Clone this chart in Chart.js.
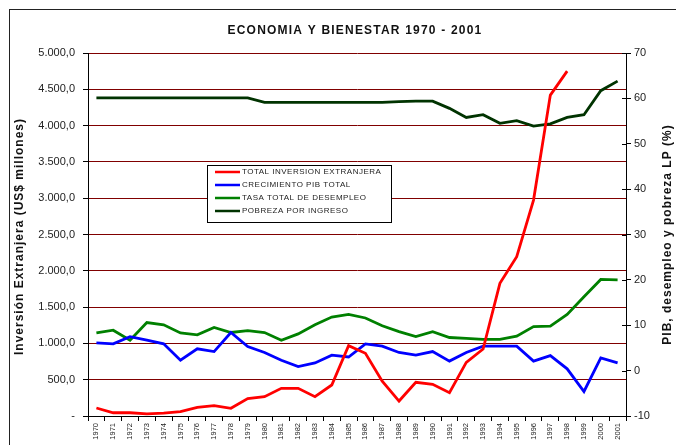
<!DOCTYPE html>
<html>
<head>
<meta charset="utf-8">
<script src="https://cdn.jsdelivr.net/npm/chart.js@4.4.1/dist/chart.umd.min.js"></script>
<style>
html,body{margin:0;padding:0;background:#fff;}
#wrap{width:676px;height:445px;position:relative;}
</style>
</head>
<body>
<div id="wrap"><canvas id="c" width="676" height="445"></canvas></div>
<script>
const years = [1970,1971,1972,1973,1974,1975,1976,1977,1978,1979,1980,1981,1982,1983,1984,1985,1986,1987,1988,1989,1990,1991,1992,1993,1994,1995,1996,1997,1998,1999,2000,2001].map(String);
const inversion = [110,45,45,28,41,60,120,142,106,239,266,381,381,266,427,968,863,480,206,464,436,321,739,922,1827,2194,2974,4420,4750,null,null,null];
const pib = [6.1,5.9,7.5,6.7,5.9,2.3,4.8,4.2,8.4,5.3,4.0,2.3,0.9,1.7,3.4,3.0,5.9,5.4,4.0,3.4,4.2,2.1,4.0,5.4,5.4,5.4,2.1,3.3,0.4,-4.6,2.8,1.7];
const desempleo = [8.3,8.9,6.7,10.6,10.1,8.3,7.9,9.5,8.4,8.8,8.4,6.7,8.1,10.1,11.8,12.4,11.6,9.9,8.6,7.5,8.6,7.3,7.1,6.9,6.9,7.6,9.7,9.8,12.4,16.3,20.1,20.0];
const pobreza = [60.1,60.1,60.1,60.1,60.1,60.1,60.1,60.1,60.1,60.1,59.1,59.1,59.1,59.1,59.1,59.1,59.1,59.1,59.3,59.4,59.4,57.8,55.8,56.4,54.5,55.1,53.9,54.4,55.8,56.4,61.7,63.8];
const seriesNames = ["TOTAL INVERSION EXTRANJERA","CRECIMIENTO PIB TOTAL","TASA TOTAL DE DESEMPLEO","POBREZA POR INGRESO"];
const chartTitle = "ECONOMIA Y BIENESTAR 1970 - 2001";
const leftTitle = "Inversión Extranjera (US$ millones)";
const rightTitle = "PIB, desempleo y pobreza LP (%)";

const FONT = "'Liberation Sans', Arial, sans-serif";

function setLS(ctx, v) { try { ctx.letterSpacing = v; } catch (e) {} }

const decor = {
  id: 'decor',
  beforeDraw(chart) {
    const ctx = chart.ctx;
    ctx.save();
    ctx.fillStyle = '#fff';
    ctx.fillRect(0, 0, chart.width, chart.height);
    ctx.strokeStyle = '#222';
    ctx.lineWidth = 1;
    ctx.strokeRect(9.5, 9.5, 800, 600);
    ctx.restore();
  },
  afterDraw(chart) {
    const ctx = chart.ctx;
    const ca = chart.chartArea;
    ctx.save();
    // title
    ctx.fillStyle = '#111';
    ctx.font = "bold 12px " + FONT;
    ctx.textAlign = 'center';
    ctx.textBaseline = 'middle';
    setLS(ctx, '1.2px');
    ctx.fillText(chartTitle, 355, 31);
    // axis titles
    const midY = (ca.top + ca.bottom) / 2;
    ctx.font = "bold 12px " + FONT;
    setLS(ctx, '1px');
    ctx.save();
    ctx.translate(20, midY + 2);
    ctx.rotate(-Math.PI / 2);
    ctx.fillText(leftTitle, 0, 0);
    ctx.restore();
    ctx.save();
    ctx.translate(668, midY);
    ctx.rotate(-Math.PI / 2);
    ctx.fillText(rightTitle, 0, 0);
    ctx.restore();
    setLS(ctx, '0px');
    // right axis inner tick marks
    const y1 = chart.scales.y1;
    ctx.strokeStyle = '#000';
    ctx.lineWidth = 1;
    y1.ticks.forEach(t => {
      const py = Math.round(y1.getPixelForValue(t.value)) + 0.5;
      ctx.beginPath();
      ctx.moveTo(ca.right - 4, py);
      ctx.lineTo(ca.right, py);
      ctx.stroke();
    });
    // legend
    const lx = 207, ly = 165, lw = 184, lh = 57;
    ctx.fillStyle = '#fff';
    ctx.fillRect(lx, ly, lw, lh);
    ctx.strokeStyle = '#000';
    ctx.strokeRect(lx + 0.5, ly + 0.5, lw, lh);
    ctx.font = "8px " + FONT;
    ctx.textAlign = 'left';
    ctx.textBaseline = 'middle';
    setLS(ctx, '0.5px');
    chart.data.datasets.forEach((ds, i) => {
      const yy = ly + 7 + i * 13;
      ctx.strokeStyle = ds.borderColor;
      ctx.lineWidth = 2.5;
      ctx.beginPath();
      ctx.moveTo(lx + 8, yy);
      ctx.lineTo(lx + 33, yy);
      ctx.stroke();
      ctx.fillStyle = '#222';
      ctx.fillText(ds.label, lx + 35, yy);
    });
    setLS(ctx, '0px');
    ctx.restore();
  }
};

new Chart(document.getElementById('c'), {
  type: 'line',
  data: {
    labels: years,
    datasets: [
      { label: seriesNames[0], data: inversion, yAxisID: 'y', borderColor: '#ff0000', backgroundColor: '#ff0000' },
      { label: seriesNames[1], data: pib, yAxisID: 'y1', borderColor: '#0000ff', backgroundColor: '#0000ff' },
      { label: seriesNames[2], data: desempleo, yAxisID: 'y1', borderColor: '#008000', backgroundColor: '#008000' },
      { label: seriesNames[3], data: pobreza, yAxisID: 'y1', borderColor: '#003300', backgroundColor: '#003300' }
    ]
  },
  options: {
    responsive: false,
    animation: false,
    spanGaps: false,
    layout: { padding: { top: 53, left: 0, right: 0, bottom: 0 } },
    elements: { point: { radius: 0 }, line: { borderWidth: 2.8, tension: 0 } },
    plugins: { legend: { display: false }, title: { display: false }, tooltip: { enabled: false } },
    scales: {
      x: {
        type: 'category',
        offset: true,
        grid: { display: true, drawOnChartArea: false, offset: true, tickLength: 5, tickColor: '#000' },
        border: { display: true, color: '#000', width: 1 },
        ticks: { font: { size: 7.5, family: FONT }, color: '#222', minRotation: 90, maxRotation: 90, autoSkip: false, padding: 2 },
        afterFit(s) { s.height = 29; }
      },
      y: {
        position: 'left',
        min: 0, max: 5000,
        ticks: { stepSize: 500, font: { size: 11, family: FONT }, color: '#222', padding: 8,
          callback(v) { if (v === 0) return '-'; return v.toLocaleString('de-DE', {minimumFractionDigits:1, maximumFractionDigits:1}); } },
        grid: { color: ctx => (ctx.tick && ctx.tick.value === 0) ? 'rgba(0,0,0,0)' : '#800000', tickColor: '#000', tickLength: 5, lineWidth: 1 },
        border: { display: true, color: '#000', width: 1 },
        afterFit(s) { s.width = 88; }
      },
      y1: {
        position: 'right',
        min: -10, max: 70,
        ticks: { stepSize: 10, font: { size: 11, family: FONT }, color: '#222', padding: 3 },
        grid: { drawOnChartArea: false, tickColor: '#000', tickLength: 5 },
        border: { display: true, color: '#000', width: 1 },
        afterFit(s) { s.width = 50; }
      }
    }
  },
  plugins: [decor]
});
</script>
</body>
</html>
